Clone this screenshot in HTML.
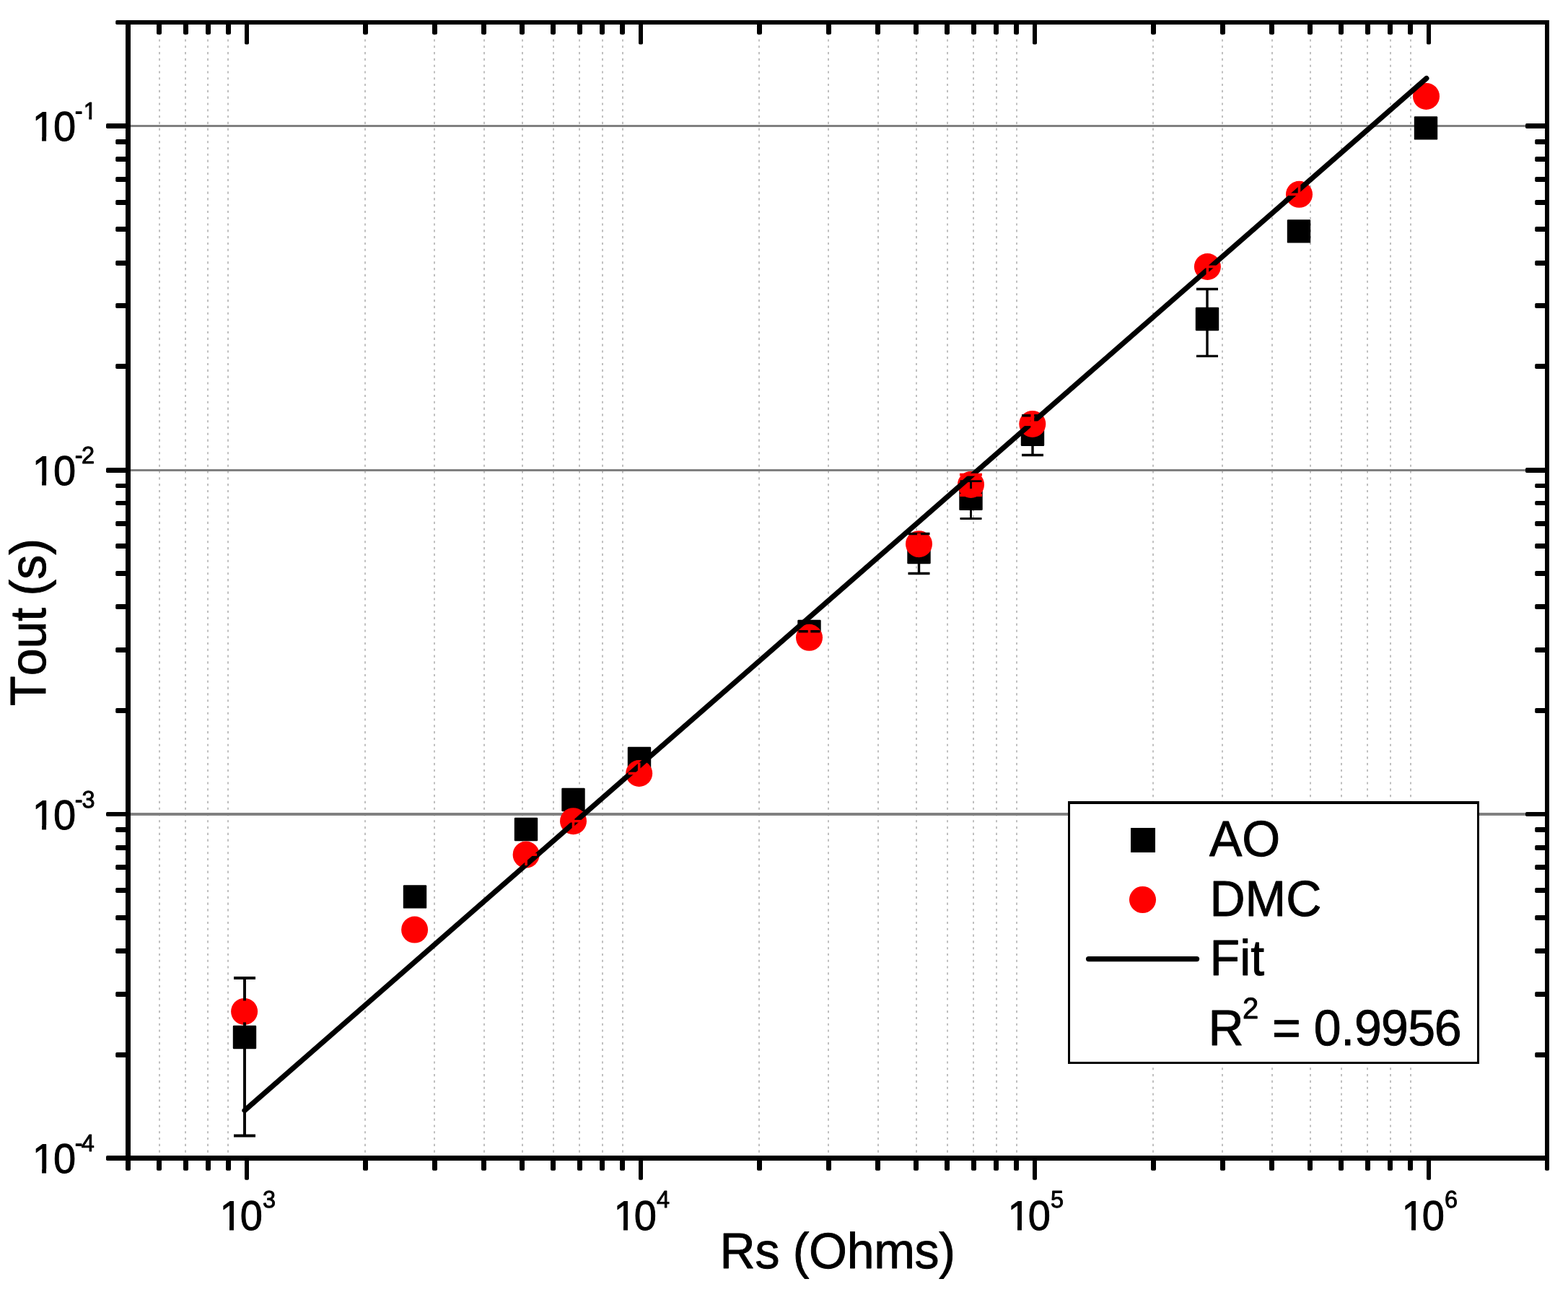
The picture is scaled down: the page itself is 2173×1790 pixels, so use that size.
<!DOCTYPE html>
<html lang="en">
<head>
<meta charset="utf-8">
<title>Tout vs Rs</title>
<style>html,body{margin:0;padding:0;background:#fff;overflow:hidden}svg{display:block}</style>
</head>
<body>
<svg width="2173" height="1790" viewBox="0 0 2173 1790" font-family='"Liberation Sans", Arial, Helvetica, sans-serif' text-rendering="geometricPrecision">
<style>text{stroke:#000;stroke-width:0.9px;stroke-linejoin:round;font-kerning:none;font-variant-ligatures:none}</style>
<rect width="2173" height="1790" fill="#fff"/>
<g stroke="#bfbfbf" stroke-width="2" stroke-dasharray="3.1 5.695" fill="none">
<path d="M221 36.86V1604.50"/>
<path d="M257 36.86V1604.50"/>
<path d="M288 36.86V1604.50"/>
<path d="M316 36.86V1604.50"/>
<path d="M506 36.86V1604.50"/>
<path d="M602 36.86V1604.50"/>
<path d="M671 36.86V1604.50"/>
<path d="M724 36.86V1604.50"/>
<path d="M767 36.86V1604.50"/>
<path d="M803 36.86V1604.50"/>
<path d="M835 36.86V1604.50"/>
<path d="M863 36.86V1604.50"/>
<path d="M1052 36.86V1604.50"/>
<path d="M1148 36.86V1604.50"/>
<path d="M1217 36.86V1604.50"/>
<path d="M1270 36.86V1604.50"/>
<path d="M1313 36.86V1604.50"/>
<path d="M1349 36.86V1604.50"/>
<path d="M1381 36.86V1604.50"/>
<path d="M1409 36.86V1604.50"/>
<path d="M1598 36.86V1604.50"/>
<path d="M1694 36.86V1604.50"/>
<path d="M1763 36.86V1604.50"/>
<path d="M1816 36.86V1604.50"/>
<path d="M1859 36.86V1604.50"/>
<path d="M1895 36.86V1604.50"/>
<path d="M1927 36.86V1604.50"/>
<path d="M1955 36.86V1604.50"/>
</g>
<g stroke="#808080" fill="none">
<path d="M177.50 174.50H2144.00" stroke-width="3.0"/>
<path d="M177.50 651.50H2144.00" stroke-width="3.0"/>
<path d="M177.50 1128.00H2144.00" stroke-width="4.0"/>
</g>
<g fill="#000">
<rect x="174.00" y="1604.50" width="7.0" height="17.30" rx="1.7"/>
<rect x="217.00" y="1604.50" width="7.0" height="17.30" rx="1.7"/>
<rect x="217.00" y="31.00" width="7.0" height="16.80" rx="1.7"/>
<rect x="254.00" y="1604.50" width="7.0" height="17.30" rx="1.7"/>
<rect x="254.00" y="31.00" width="7.0" height="16.80" rx="1.7"/>
<rect x="285.00" y="1604.50" width="7.0" height="17.30" rx="1.7"/>
<rect x="285.00" y="31.00" width="7.0" height="16.80" rx="1.7"/>
<rect x="313.00" y="1604.50" width="7.0" height="17.30" rx="1.7"/>
<rect x="313.00" y="31.00" width="7.0" height="16.80" rx="1.7"/>
<rect x="339.00" y="1604.50" width="6.0" height="30.20" rx="1.7"/>
<rect x="339.00" y="31.00" width="6.0" height="30.50" rx="1.7"/>
<rect x="503.00" y="1604.50" width="7.0" height="17.30" rx="1.7"/>
<rect x="503.00" y="31.00" width="7.0" height="16.80" rx="1.7"/>
<rect x="599.00" y="1604.50" width="7.0" height="17.30" rx="1.7"/>
<rect x="599.00" y="31.00" width="7.0" height="16.80" rx="1.7"/>
<rect x="667.00" y="1604.50" width="7.0" height="17.30" rx="1.7"/>
<rect x="667.00" y="31.00" width="7.0" height="16.80" rx="1.7"/>
<rect x="720.00" y="1604.50" width="7.0" height="17.30" rx="1.7"/>
<rect x="720.00" y="31.00" width="7.0" height="16.80" rx="1.7"/>
<rect x="763.00" y="1604.50" width="7.0" height="17.30" rx="1.7"/>
<rect x="763.00" y="31.00" width="7.0" height="16.80" rx="1.7"/>
<rect x="800.00" y="1604.50" width="7.0" height="17.30" rx="1.7"/>
<rect x="800.00" y="31.00" width="7.0" height="16.80" rx="1.7"/>
<rect x="831.00" y="1604.50" width="7.0" height="17.30" rx="1.7"/>
<rect x="831.00" y="31.00" width="7.0" height="16.80" rx="1.7"/>
<rect x="859.00" y="1604.50" width="7.0" height="17.30" rx="1.7"/>
<rect x="859.00" y="31.00" width="7.0" height="16.80" rx="1.7"/>
<rect x="885.00" y="1604.50" width="6.0" height="30.20" rx="1.7"/>
<rect x="885.00" y="31.00" width="6.0" height="30.50" rx="1.7"/>
<rect x="1049.00" y="1604.50" width="7.0" height="17.30" rx="1.7"/>
<rect x="1049.00" y="31.00" width="7.0" height="16.80" rx="1.7"/>
<rect x="1145.00" y="1604.50" width="7.0" height="17.30" rx="1.7"/>
<rect x="1145.00" y="31.00" width="7.0" height="16.80" rx="1.7"/>
<rect x="1213.00" y="1604.50" width="7.0" height="17.30" rx="1.7"/>
<rect x="1213.00" y="31.00" width="7.0" height="16.80" rx="1.7"/>
<rect x="1266.00" y="1604.50" width="7.0" height="17.30" rx="1.7"/>
<rect x="1266.00" y="31.00" width="7.0" height="16.80" rx="1.7"/>
<rect x="1309.00" y="1604.50" width="7.0" height="17.30" rx="1.7"/>
<rect x="1309.00" y="31.00" width="7.0" height="16.80" rx="1.7"/>
<rect x="1346.00" y="1604.50" width="7.0" height="17.30" rx="1.7"/>
<rect x="1346.00" y="31.00" width="7.0" height="16.80" rx="1.7"/>
<rect x="1377.00" y="1604.50" width="7.0" height="17.30" rx="1.7"/>
<rect x="1377.00" y="31.00" width="7.0" height="16.80" rx="1.7"/>
<rect x="1405.00" y="1604.50" width="7.0" height="17.30" rx="1.7"/>
<rect x="1405.00" y="31.00" width="7.0" height="16.80" rx="1.7"/>
<rect x="1431.00" y="1604.50" width="6.0" height="30.20" rx="1.7"/>
<rect x="1431.00" y="31.00" width="6.0" height="30.50" rx="1.7"/>
<rect x="1595.00" y="1604.50" width="7.0" height="17.30" rx="1.7"/>
<rect x="1595.00" y="31.00" width="7.0" height="16.80" rx="1.7"/>
<rect x="1691.00" y="1604.50" width="7.0" height="17.30" rx="1.7"/>
<rect x="1691.00" y="31.00" width="7.0" height="16.80" rx="1.7"/>
<rect x="1759.00" y="1604.50" width="7.0" height="17.30" rx="1.7"/>
<rect x="1759.00" y="31.00" width="7.0" height="16.80" rx="1.7"/>
<rect x="1812.00" y="1604.50" width="7.0" height="17.30" rx="1.7"/>
<rect x="1812.00" y="31.00" width="7.0" height="16.80" rx="1.7"/>
<rect x="1855.00" y="1604.50" width="7.0" height="17.30" rx="1.7"/>
<rect x="1855.00" y="31.00" width="7.0" height="16.80" rx="1.7"/>
<rect x="1892.00" y="1604.50" width="7.0" height="17.30" rx="1.7"/>
<rect x="1892.00" y="31.00" width="7.0" height="16.80" rx="1.7"/>
<rect x="1923.00" y="1604.50" width="7.0" height="17.30" rx="1.7"/>
<rect x="1923.00" y="31.00" width="7.0" height="16.80" rx="1.7"/>
<rect x="1951.00" y="1604.50" width="7.0" height="17.30" rx="1.7"/>
<rect x="1951.00" y="31.00" width="7.0" height="16.80" rx="1.7"/>
<rect x="1977.00" y="1604.50" width="6.0" height="30.20" rx="1.7"/>
<rect x="1977.00" y="31.00" width="6.0" height="30.50" rx="1.7"/>
<rect x="2141.00" y="1604.50" width="6.0" height="17.30" rx="1.7"/>
<rect x="147.00" y="1601.00" width="30.50" height="7.0" rx="1.7"/>
<rect x="160.20" y="1458.00" width="17.30" height="7.0" rx="1.7"/>
<rect x="2127.20" y="1458.00" width="16.80" height="7.0" rx="1.7"/>
<rect x="160.20" y="1374.00" width="17.30" height="7.0" rx="1.7"/>
<rect x="2127.20" y="1374.00" width="16.80" height="7.0" rx="1.7"/>
<rect x="160.20" y="1314.00" width="17.30" height="7.0" rx="1.7"/>
<rect x="2127.20" y="1314.00" width="16.80" height="7.0" rx="1.7"/>
<rect x="160.20" y="1268.00" width="17.30" height="7.0" rx="1.7"/>
<rect x="2127.20" y="1268.00" width="16.80" height="7.0" rx="1.7"/>
<rect x="160.20" y="1230.00" width="17.30" height="7.0" rx="1.7"/>
<rect x="2127.20" y="1230.00" width="16.80" height="7.0" rx="1.7"/>
<rect x="160.20" y="1198.00" width="17.30" height="7.0" rx="1.7"/>
<rect x="2127.20" y="1198.00" width="16.80" height="7.0" rx="1.7"/>
<rect x="160.20" y="1171.00" width="17.30" height="7.0" rx="1.7"/>
<rect x="2127.20" y="1171.00" width="16.80" height="7.0" rx="1.7"/>
<rect x="160.20" y="1146.00" width="17.30" height="7.0" rx="1.7"/>
<rect x="2127.20" y="1146.00" width="16.80" height="7.0" rx="1.7"/>
<rect x="147.00" y="1125.00" width="30.50" height="6" rx="1.7"/>
<rect x="2114.00" y="1125.00" width="30.00" height="6" rx="1.7"/>
<rect x="160.20" y="981.00" width="17.30" height="7.0" rx="1.7"/>
<rect x="2127.20" y="981.00" width="16.80" height="7.0" rx="1.7"/>
<rect x="160.20" y="897.00" width="17.30" height="7.0" rx="1.7"/>
<rect x="2127.20" y="897.00" width="16.80" height="7.0" rx="1.7"/>
<rect x="160.20" y="837.00" width="17.30" height="7.0" rx="1.7"/>
<rect x="2127.20" y="837.00" width="16.80" height="7.0" rx="1.7"/>
<rect x="160.20" y="791.00" width="17.30" height="7.0" rx="1.7"/>
<rect x="2127.20" y="791.00" width="16.80" height="7.0" rx="1.7"/>
<rect x="160.20" y="753.00" width="17.30" height="7.0" rx="1.7"/>
<rect x="2127.20" y="753.00" width="16.80" height="7.0" rx="1.7"/>
<rect x="160.20" y="722.00" width="17.30" height="7.0" rx="1.7"/>
<rect x="2127.20" y="722.00" width="16.80" height="7.0" rx="1.7"/>
<rect x="160.20" y="694.00" width="17.30" height="6" rx="1.7"/>
<rect x="2127.20" y="694.00" width="16.80" height="6" rx="1.7"/>
<rect x="160.20" y="670.00" width="17.30" height="6" rx="1.7"/>
<rect x="2127.20" y="670.00" width="16.80" height="6" rx="1.7"/>
<rect x="147.00" y="648.00" width="30.50" height="7.0" rx="1.7"/>
<rect x="2114.00" y="648.00" width="30.00" height="7.0" rx="1.7"/>
<rect x="160.20" y="504.00" width="17.30" height="7.0" rx="1.7"/>
<rect x="2127.20" y="504.00" width="16.80" height="7.0" rx="1.7"/>
<rect x="160.20" y="420.00" width="17.30" height="7.0" rx="1.7"/>
<rect x="2127.20" y="420.00" width="16.80" height="7.0" rx="1.7"/>
<rect x="160.20" y="361.00" width="17.30" height="7.0" rx="1.7"/>
<rect x="2127.20" y="361.00" width="16.80" height="7.0" rx="1.7"/>
<rect x="160.20" y="314.00" width="17.30" height="7.0" rx="1.7"/>
<rect x="2127.20" y="314.00" width="16.80" height="7.0" rx="1.7"/>
<rect x="160.20" y="277.00" width="17.30" height="7.0" rx="1.7"/>
<rect x="2127.20" y="277.00" width="16.80" height="7.0" rx="1.7"/>
<rect x="160.20" y="245.00" width="17.30" height="7.0" rx="1.7"/>
<rect x="2127.20" y="245.00" width="16.80" height="7.0" rx="1.7"/>
<rect x="160.20" y="217.00" width="17.30" height="7.0" rx="1.7"/>
<rect x="2127.20" y="217.00" width="16.80" height="7.0" rx="1.7"/>
<rect x="160.20" y="193.00" width="17.30" height="7.0" rx="1.7"/>
<rect x="2127.20" y="193.00" width="16.80" height="7.0" rx="1.7"/>
<rect x="147.00" y="171.00" width="30.50" height="7.0" rx="1.7"/>
<rect x="2114.00" y="171.00" width="30.00" height="7.0" rx="1.7"/>
<rect x="160.20" y="28.00" width="17.30" height="6.0" rx="1.7"/>
</g>
<g stroke="#000" fill="none">
<path d="M177.50 28.00V1608.00" stroke-width="7.0"/>
<path d="M174.00 1604.50H2147.00" stroke-width="7.0"/>
<path d="M174.00 31.00H2147.00" stroke-width="6.0"/>
<path d="M2144.00 28.00V1608.00" stroke-width="6.0"/>
</g>
<g fill="#000">
<rect x="322.80" y="1420.80" width="32.4" height="32.4" rx="1.2"/>
<rect x="558.80" y="1226.20" width="32.4" height="32.4" rx="1.2"/>
<rect x="712.80" y="1132.80" width="32.4" height="32.4" rx="1.2"/>
<rect x="778.30" y="1091.80" width="32.4" height="32.4" rx="1.2"/>
<rect x="869.80" y="1034.80" width="32.4" height="32.4" rx="1.2"/>
<rect x="1105.30" y="858.80" width="32.4" height="32.4" rx="1.2"/>
<rect x="1257.30" y="748.80" width="32.4" height="32.4" rx="1.2"/>
<rect x="1329.30" y="674.50" width="32.4" height="32.4" rx="1.2"/>
<rect x="1414.80" y="585.50" width="32.4" height="32.4" rx="1.2"/>
<rect x="1656.80" y="425.80" width="32.4" height="32.4" rx="1.2"/>
<rect x="1783.80" y="304.20" width="32.4" height="32.4" rx="1.2"/>
<rect x="1959.80" y="161.20" width="32.4" height="32.4" rx="1.2"/>
</g>
<g fill="#ff0000">
<circle cx="338.60" cy="1401.40" r="18.5"/>
<circle cx="574.60" cy="1288.10" r="18.5"/>
<circle cx="729.10" cy="1184.10" r="18.5"/>
<circle cx="794.50" cy="1137.70" r="18.5"/>
<circle cx="885.70" cy="1071.50" r="18.5"/>
<circle cx="1121.50" cy="883.30" r="18.5"/>
<circle cx="1273.50" cy="753.70" r="18.5"/>
<circle cx="1345.50" cy="671.40" r="18.5"/>
<circle cx="1430.80" cy="587.40" r="18.5"/>
<circle cx="1673.40" cy="369.50" r="18.5"/>
<circle cx="1800.50" cy="269.30" r="18.5"/>
<circle cx="1976.50" cy="133.40" r="18.5"/>
</g>
<path d="M324.00 1355.00h30.0M324.00 1573.50h30.0M339.00 1355.00V1423.30M339.00 1573.50V1450.70" stroke="#000" stroke-width="3.9" fill="none"/>
<path d="M1258.50 739.50h30.0M1258.50 794.50h30.0M1273.50 739.50V751.30M1273.50 794.50V778.70" stroke="#000" stroke-width="3.4" fill="none"/>
<path d="M1330.50 666.60h30.0M1330.50 718.50h30.0M1345.50 666.60V677.00M1345.50 718.50V704.40" stroke="#000" stroke-width="2.9" fill="none"/>
<path d="M1416.00 575.80h30.0M1416.00 630.50h30.0M1431.00 575.80V588.00M1431.00 630.50V615.40" stroke="#000" stroke-width="3.4" fill="none"/>
<path d="M1658.00 400.50h30.0M1658.00 493.40h30.0M1673.00 400.50V428.30M1673.00 493.40V455.70" stroke="#000" stroke-width="3.4" fill="none"/>
<path d="M1106.50 874.70h30.0M1106.50 874.70h30.0" stroke="#000" stroke-width="3.4" fill="none"/>
<path d="M339.0 1538.5L1976.9 108.5" stroke="#000" stroke-width="7.2" stroke-linecap="round" fill="none"/>
<path d="M323.60 1401.40h30" stroke="#ff0000" stroke-width="3.6" fill="none"/>
<path d="M338.60 1386.40v30" stroke="#ff0000" stroke-width="4.8" fill="none"/>
<path d="M559.60 1288.10h30" stroke="#ff0000" stroke-width="3.6" fill="none"/>
<path d="M574.60 1273.10v30" stroke="#ff0000" stroke-width="3.6" fill="none"/>
<path d="M714.10 1184.10h30" stroke="#ff0000" stroke-width="3.6" fill="none"/>
<path d="M729.10 1169.10v30" stroke="#ff0000" stroke-width="3.6" fill="none"/>
<path d="M779.50 1137.70h30" stroke="#ff0000" stroke-width="3.6" fill="none"/>
<path d="M794.50 1122.70v30" stroke="#ff0000" stroke-width="3.6" fill="none"/>
<path d="M870.70 1071.50h30" stroke="#ff0000" stroke-width="3.6" fill="none"/>
<path d="M885.70 1056.50v30" stroke="#ff0000" stroke-width="3.6" fill="none"/>
<path d="M1106.50 883.30h30" stroke="#ff0000" stroke-width="3.6" fill="none"/>
<path d="M1121.50 868.30v30" stroke="#ff0000" stroke-width="3.6" fill="none"/>
<path d="M1258.50 753.70h30" stroke="#ff0000" stroke-width="3.6" fill="none"/>
<path d="M1273.50 738.70v30" stroke="#ff0000" stroke-width="4.8" fill="none"/>
<path d="M1330.00 657.7h31M1330.00 686h31" stroke="#ff0000" stroke-width="3.8" fill="none"/>
<path d="M1415.80 586.80h30" stroke="#ff0000" stroke-width="6.6" fill="none"/>
<path d="M1430.80 572.40v30" stroke="#ff0000" stroke-width="4.8" fill="none"/>
<path d="M1658.40 369.50h30" stroke="#ff0000" stroke-width="3.6" fill="none"/>
<path d="M1673.40 354.50v30" stroke="#ff0000" stroke-width="3.6" fill="none"/>
<path d="M1785.50 269.30h30" stroke="#ff0000" stroke-width="3.6" fill="none"/>
<path d="M1800.50 254.30v30" stroke="#ff0000" stroke-width="3.6" fill="none"/>
<path d="M1961.50 133.40h30" stroke="#ff0000" stroke-width="3.6" fill="none"/>
<path d="M1976.50 118.40v30" stroke="#ff0000" stroke-width="3.6" fill="none"/>
<defs>
<clipPath id="cx"><path clip-rule="evenodd" d="M-30 -120H220V40H-30ZM2.42 -5.35H16.37V3H2.42ZM22.31 -5.35H32.86V3H22.31Z"/></clipPath>
<clipPath id="cy"><path clip-rule="evenodd" d="M-30 -120H220V40H-30ZM1.37 -5.35H15.32V3H1.37ZM21.26 -5.35H31.81V3H21.26Z"/></clipPath>
<clipPath id="cy1"><path clip-rule="evenodd" d="M-30 -120H220V40H-30ZM1.37 -5.35H15.32V3H1.37ZM21.26 -5.35H31.81V3H21.26ZM73.05 -32.66H80.50V-27.41H73.05ZM84.35 -32.66H91.80V-27.41H84.35Z"/></clipPath>
</defs>
<text transform="translate(301.60 1704.30) scale(1 1.027)" font-size="56.0" clip-path="url(#cx)"><tspan dx="2.9 -2.9">10</tspan><tspan x="62.30" y="-30.67" font-size="32.5">3</tspan></text>
<text transform="translate(847.60 1704.30) scale(1 1.027)" font-size="56.0" clip-path="url(#cx)"><tspan dx="2.9 -2.9">10</tspan><tspan x="62.30" y="-30.67" font-size="32.5">4</tspan></text>
<text transform="translate(1393.60 1704.30) scale(1 1.027)" font-size="56.0" clip-path="url(#cx)"><tspan dx="2.9 -2.9">10</tspan><tspan x="62.30" y="-30.67" font-size="32.5">5</tspan></text>
<text transform="translate(1939.60 1704.30) scale(1 1.027)" font-size="56.0" clip-path="url(#cx)"><tspan dx="2.9 -2.9">10</tspan><tspan x="62.30" y="-30.67" font-size="32.5">6</tspan></text>
<text transform="translate(42.80 195.00) scale(1 1.027)" font-size="56.0" clip-path="url(#cy1)"><tspan dx="1.85 -1.85">10</tspan><tspan x="61.00" y="-29.41" font-size="32.5" dx="0 1.1">-1</tspan></text>
<text transform="translate(42.80 671.80) scale(1 1.027)" font-size="56.0" clip-path="url(#cy)"><tspan dx="1.85 -1.85">10</tspan><tspan x="61.00" y="-29.41" font-size="32.5" dx="0 -1.6">-2</tspan></text>
<text transform="translate(42.80 1148.80) scale(1 1.027)" font-size="56.0" clip-path="url(#cy)"><tspan dx="1.85 -1.85">10</tspan><tspan x="61.00" y="-29.41" font-size="32.5" dx="0 -1.2">-3</tspan></text>
<text transform="translate(42.80 1625.00) scale(1 1.027)" font-size="56.0" clip-path="url(#cy)"><tspan dx="1.85 -1.85">10</tspan><tspan x="61.00" y="-29.41" font-size="32.5" dx="0 -1.8">-4</tspan></text>
<text transform="translate(997.60 1757.00) scale(1 1.027)" font-size="68.0" letter-spacing="-0.3">Rs (Ohms)</text>
<text transform="translate(63.00 977.90) rotate(-90) scale(1 1.027)" font-size="68.0" dx="0 0 0 0 0 -2.6">Tout (s)</text>
<rect x="1480" y="1110" width="570" height="364" fill="#fff"/>
<path d="M1480 1110H2050V1474H1480ZM1483 1114V1471H2047V1114Z" fill="#000" fill-rule="evenodd"/>
<rect x="1567" y="1147" width="34" height="34" fill="#000"/>
<circle cx="1583.5" cy="1246.5" r="18.55" fill="#ff0000"/>
<path d="M1508.6 1328.6H1658.5" stroke="#000" stroke-width="7.4" stroke-linecap="round" fill="none"/>
<text transform="translate(1676.00 1185.90) scale(1 1.027)" font-size="68.0">AO</text>
<text transform="translate(1676.40 1268.80) scale(1 1.027)" font-size="68.0">DMC</text>
<text transform="translate(1676.60 1350.70) scale(1 1.027)" font-size="68.0">Fit</text>
<text transform="translate(1674.60 1448.00) scale(1 1.027)" font-size="68.0">R<tspan x="47.4" y="-36.03" font-size="40">2</tspan><tspan x="69.5" y="0"> = </tspan><tspan letter-spacing="-1.3" dx="-0.8 0.8 1.2 0.5 0.8 0">0.9956</tspan></text>
</svg>
</body>
</html>
